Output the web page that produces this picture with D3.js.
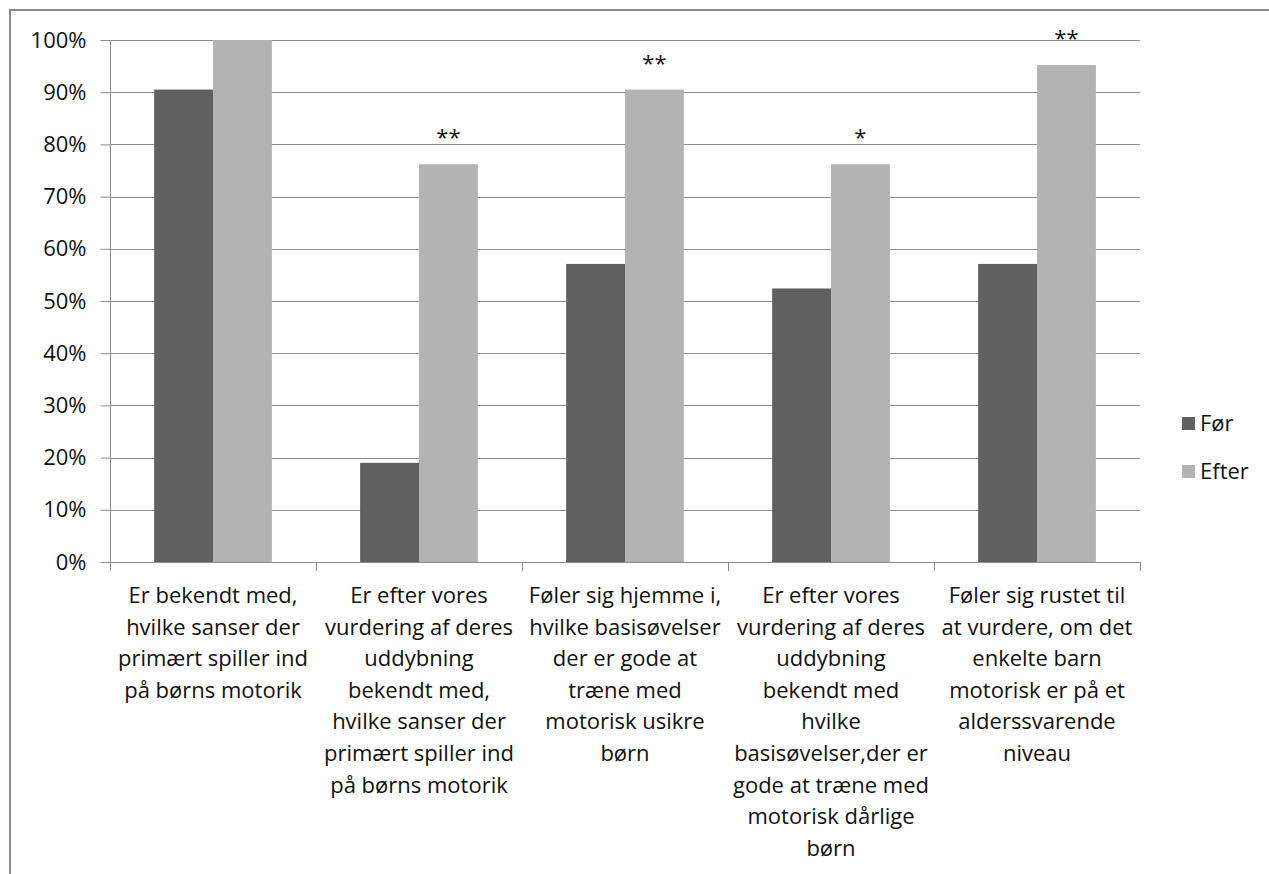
<!DOCTYPE html>
<html>
<head>
<meta charset="utf-8">
<script src="https://cdn.jsdelivr.net/npm/d3@7/dist/d3.min.js"></script>
<style>
  html, body { margin: 0; padding: 0; background: #fff; }
  svg { display: block; }
  text { font-family: "Open Sans", Lato, sans-serif; fill: #111; }
</style>
</head>
<body>
<svg id="chart" width="1269" height="874"></svg>
<script>
const categories = [
  "Er bekendt med,\nhvilke sanser der\nprimært spiller ind\npå børns motorik",
  "Er efter vores\nvurdering af deres\nuddybning\nbekendt med,\nhvilke sanser der\nprimært spiller ind\npå børns motorik",
  "Føler sig hjemme i,\nhvilke basisøvelser\nder er gode at\ntræne med\nmotorisk usikre\nbørn",
  "Er efter vores\nvurdering af deres\nuddybning\nbekendt med\nhvilke\nbasisøvelser,der er\ngode at træne med\nmotorisk dårlige\nbørn",
  "Føler sig rustet til\nat vurdere, om det\nenkelte barn\nmotorisk er på et\nalderssvarende\nniveau"
];
const seriesNames = ["Før", "Efter"];
const forValues = [90.5, 19.0, 57.1, 52.4, 57.1];
const efterValues = [100, 76.2, 90.5, 76.2, 95.2];
const significance = ["", "**", "**", "*", "**"];
const yTicks = [0, 10, 20, 30, 40, 50, 60, 70, 80, 90, 100];
const colors = ["#606060", "#b3b3b3"];
const FONT = "\"Open Sans\", Lato, sans-serif";
const FS = "22px";

const svg = d3.select("#chart");

// outer chart frame
svg.append("rect").attr("x", 10).attr("y", 10).attr("width", 1300).attr("height", 900)
  .attr("fill", "none").attr("stroke", "#8a8a8a").attr("stroke-width", 2);

const pLeft = 110, pRight = 1140, pTop = 40, pBottom = 562;
const idx = categories.map((d, i) => i);
const x0 = d3.scaleBand().domain(idx).range([pLeft, pRight]).paddingInner(0).paddingOuter(0);
const x1 = d3.scaleBand().domain(seriesNames).range([0, x0.bandwidth()]).paddingInner(0).paddingOuter(0.75);
const y = d3.scaleLinear().domain([0, 100]).range([pBottom, pTop]);

// gridlines
svg.append("g").selectAll("line").data(yTicks.filter(d => d > 0)).join("line")
  .attr("x1", pLeft).attr("x2", pRight)
  .attr("y1", d => Math.round(y(d)) + 0.5).attr("y2", d => Math.round(y(d)) + 0.5)
  .attr("stroke", "#8c8c8c").attr("stroke-width", 1);

// y axis
const yAxis = svg.append("g").attr("transform", `translate(${pLeft + 0.5},0)`)
  .call(d3.axisLeft(y).tickValues(yTicks).tickFormat(d => d + "%").tickSize(10).tickPadding(14));
yAxis.selectAll("path, line").attr("stroke", "#8c8c8c");
yAxis.select(".domain").attr("d", `M0,${y(100)}V${y(0)}`);
yAxis.selectAll("text").style("font-size", FS).style("font-family", FONT).attr("fill", "#111");

// bars
const series = [forValues, efterValues];
series.forEach((vals, s) => {
  svg.append("g").selectAll("rect").data(vals).join("rect")
    .attr("x", (d, i) => x0(i) + x1(seriesNames[s]))
    .attr("width", x1.bandwidth())
    .attr("y", d => y(d))
    .attr("height", d => y(0) - y(d))
    .attr("fill", colors[s]);
});

// significance stars
svg.append("g").selectAll("text").data(significance).join("text")
  .attr("x", (d, i) => x0(i) + x1("Efter") + x1.bandwidth() / 2)
  .attr("y", (d, i) => y(efterValues[i]) - 19)
  .attr("text-anchor", "middle")
  .style("font-size", FS)
  .style("font-family", FONT)
  .text(d => d);

// x axis line and boundary ticks
const xg = svg.append("g");
xg.append("line").attr("x1", pLeft).attr("x2", pRight)
  .attr("y1", pBottom + 0.5).attr("y2", pBottom + 0.5).attr("stroke", "#8c8c8c");
const bounds = idx.map(i => x0(i)).concat([x0(idx[idx.length - 1]) + x0.bandwidth()]);
xg.selectAll("line.tk").data(bounds).join("line").attr("class", "tk")
  .attr("x1", d => Math.round(d) + 0.5).attr("x2", d => Math.round(d) + 0.5)
  .attr("y1", pBottom).attr("y2", pBottom + 9).attr("stroke", "#8c8c8c");

// category labels
const lab = svg.append("g").selectAll("text").data(categories).join("text")
  .attr("text-anchor", "middle")
  .style("font-size", FS)
  .style("font-family", FONT)
  .attr("transform", (d, i) => `translate(${x0(i) + x0.bandwidth() / 2},603)`);
lab.selectAll("tspan").data(d => d.split("\n")).join("tspan")
  .attr("x", 0).attr("y", (d, j) => j * 31.6).text(d => d);

// legend
const lg = svg.append("g").selectAll("g").data(seriesNames).join("g")
  .attr("transform", (d, i) => `translate(1182,${417 + i * 48})`);
lg.append("rect").attr("width", 13).attr("height", 13).attr("fill", (d, i) => colors[i]);
lg.append("text").attr("x", 18).attr("y", 14).style("font-size", FS).style("font-family", FONT).text(d => d);
</script>
</body>
</html>
